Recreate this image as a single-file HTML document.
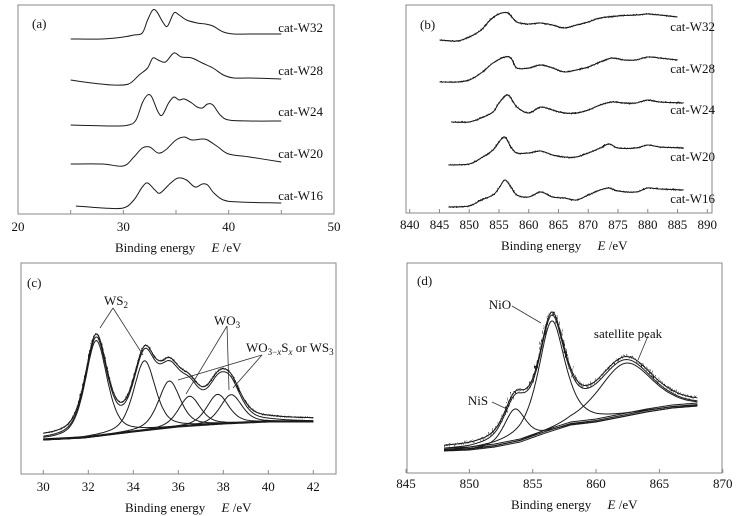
<!DOCTYPE html>
<html><head><meta charset="utf-8"><style>
body{margin:0;background:#fff}
svg{display:block;font-family:"Liberation Serif",serif}
.t{font-size:13px;fill:#111}
.box{fill:none;stroke:#888;stroke-width:1}
.ln{fill:none;stroke:#1a1a1a;stroke-width:1}
</style></head><body>
<svg id="fig" width="736" height="516" viewBox="0 0 736 516" xmlns="http://www.w3.org/2000/svg">
<defs>
<filter id="nz1" x="-5%" y="-20%" width="110%" height="140%"><feTurbulence type="fractalNoise" baseFrequency="1.2 0.3" numOctaves="1" seed="3"/><feDisplacementMap in="SourceGraphic" scale="3" yChannelSelector="G"/></filter>
<filter id="nz2" x="-5%" y="-20%" width="110%" height="140%"><feTurbulence type="fractalNoise" baseFrequency="0.9 0.2" numOctaves="1" seed="5"/><feDisplacementMap in="SourceGraphic" scale="9" yChannelSelector="G"/></filter>
</defs>
<rect width="736" height="516" fill="#fff"/>
<g id="pa"></g>
<g id="pb"></g>
<g id="pc"></g>
<g id="pd"></g>
</svg>
<script>
// ---- panel (a) data ----
const aTicks = [20, 30, 40, 50];
const aNames = ["cat-W32", "cat-W28", "cat-W24", "cat-W20", "cat-W16"];
const aW32E = [25,28,30,31,31.8,32.3,32.8,33.2,33.8,34.2,34.8,35.3,36,37,37.8,38.5,39.5,40.5,42,45];
const aW32I = [175,175,177,179,181,194,204,202,191,188,201,199,194,191,190,188,182,180,180,180];
const aW28E = [25,27,29,30.5,31.5,32.3,32.8,33.3,34,34.8,35.5,36.5,37.5,38.5,39.5,40.5,42,45];
const aW28I = [134,131,129,130,139,146,156,154,152,161,157,156,151,146,139,136,136,135];
const aW24E = [25,29,30.5,31.2,31.8,32.3,32.7,33.3,33.7,34.3,34.8,35.3,35.8,36.5,37,37.5,38,38.5,39.2,40,42,45];
const aW24I = [89,88,89,94,111,119,117,102,99,111,117,114,115,111,107,106,110,109,99,94,93,93];
const aW20E = [25,28,30,31,31.8,32.5,33.3,34,35,35.8,36.5,37.5,38,39,40,42,45];
const aW20I = [50,50,48,57,66,67,61,64,74,77,74,75,74,67,60,57,52];
const aW16E = [25.5,28,30,31,31.8,32.3,33,33.5,34.5,35.2,36,36.8,37.5,38,38.6,39.5,41,45];
const aW16I = [8,6,6,14,27,31,24,21,31,36,34,27,30,29,21,14,12,11];
// ---- panel (b) data ----
const bTicks = [840,845,850,855,860,865,870,875,880,885,890];
const bW32E = [845,848,850,852,853.5,855,856.5,858,860,862,864,866,868,870,872,875,878,880,882,885];
const bW32I = [173,172,176,183,193,199,200,191,189,190,188,185,188,191,195,197,198,199,198,196];
const bW28E = [845,848,850,852,854,856,857,858,860,862,864,866,868,870,872,874,876,878,880,882,885];
const bW28I = [131,131,133,140,150,156,155,145,145,148,145,141,143,146,151,155,153,153,156,155,153];
const bW24E = [847,850,852,854,855,856.5,858,860,862,864,866,868,870,872,874,876,878,880,882,886];
const bW24I = [91,91,95,101,110,118,106,100,106,103,100,100,103,108,111,110,110,113,111,110];
const bW20E = [846.5,850,852,854,855,856,857,858,860,862,864,866,868,870,872,873.5,875,878,880,882,886];
const bW20I = [48,49,55,63,71,76,66,60,60,62,58,56,56,60,65,69,65,65,68,66,65];
const bW16E = [846.5,850,852,854,855,856,857,858,860,862,864,866,868,870,872,873.5,875,878,880,882,886];
const bW16I = [6,7,13,18,25,33,26,18,16,21,16,15,13,18,23,25,22,21,25,24,23];
// ---- panel (c) data ----
const cTicks = [30,32,34,36,38,40,42];
const cCenters = [32.35,34.5,35.6,36.5,37.75,38.35];
const cHeights = [96,70,47,30,30,29];
const cWidths = [1.15,1.15,1.15,1.15,1.15,1.15];
const cBgE = [30,31.8,34,36,38,40,42];
const cBgI = [34,36,42,47,50,52,52];
// ---- panel (d) data ----
const dTicks = [845,850,855,860,865,870];
const dCenters = [853.6,856.5,862.3];
const dHeights = [34,110,53];
const dWidths = [2.0,2.5,5.0];
const dBgE = [848,850,852,854,856,858,860,862,864,866,868];
const dBgI = [22,23,26,31,40,48,51,56,61,65,67];

const NS = "http://www.w3.org/2000/svg";
function mk(parent, tag, attrs, text) {
  const e = document.createElementNS(NS, tag);
  for (const k in attrs) e.setAttribute(k, attrs[k]);
  if (text !== undefined) e.textContent = text;
  parent.appendChild(e);
  return e;
}
function interp(E, xs, ys) {
  if (E <= xs[0]) return ys[0];
  for (let i = 1; i < xs.length; i++) if (E <= xs[i]) { const t = (E - xs[i-1])/(xs[i]-xs[i-1]); return ys[i-1] + t*(ys[i]-ys[i-1]); }
  return ys[ys.length-1];
}
function pv(E, c, h, w, eta) {
  const u = (E - c) / w;
  return h * (eta / (1 + 4*u*u) + (1-eta) * Math.exp(-4*Math.LN2*u*u));
}
function ptsFrom(xs, ys, sx, sy) { return xs.map((x,i)=> sx(x).toFixed(1)+","+sy(ys[i]).toFixed(1)).join(" "); }
function smoothPath(xs, ys, sx, sy) {
  const P = xs.map((x,i)=>[sx(x), sy(ys[i])]);
  let d = "M" + P[0][0].toFixed(1) + "," + P[0][1].toFixed(1);
  for (let i = 0; i < P.length - 1; i++) {
    const p0 = P[Math.max(0,i-1)], p1 = P[i], p2 = P[i+1], p3 = P[Math.min(P.length-1,i+2)];
    const c1 = [p1[0]+(p2[0]-p0[0])/6, p1[1]+(p2[1]-p0[1])/6];
    const c2 = [p2[0]-(p3[0]-p1[0])/6, p2[1]-(p3[1]-p1[1])/6];
    d += " C" + c1.map(v=>v.toFixed(1)).join(",") + " " + c2.map(v=>v.toFixed(1)).join(",") + " " + p2.map(v=>v.toFixed(1)).join(",");
  }
  return d;
}

function frame(g, name, x0, y0, x1, y1, ticks, sx, lblY, titleX) {
  const r = mk(g, "rect", {x:x0, y:y0, width:x1-x0, height:y1-y0, class:"box"});
  
  
  ticks.forEach(v => {
    const tk = mk(g, "line", {x1:sx(v), x2:sx(v), y1:y1, y2:y1-4, stroke:"#888"});
    
    
    const tl = mk(g, "text", {x:sx(v), y:lblY, class:"t", "text-anchor":"middle"}, String(v));
    
    
  });
  const tt = mk(g, "text", {x:titleX, y:lblY+21, class:"t"});
  
  
  tt.innerHTML = 'Binding energy\u00a0\u00a0\u00a0\u00a0\u00a0<tspan font-style="italic">E</tspan> /eV';
}

// panel a
(function(){
  const g = document.getElementById("pa");
  const sx = E => 18 + (E - 20) * (316/30);
  const sy = I => 214 - I;
  frame(g, "panel-a", 18, 5, 334, 214, aTicks, sx, 231, 115);
  [25,35,45].forEach(v=>{ const m = mk(g,"line",{x1:sx(v),x2:sx(v),y1:214,y2:210,stroke:"#888"});
    
     });
  const lab = mk(g,"text",{x:32,y:28,class:"t"},"(a)");
  
  
  const sets = [[aW32E,aW32I],[aW28E,aW28I],[aW24E,aW24I],[aW20E,aW20I],[aW16E,aW16I]];
  const ly = [32,75,116,158,200];
  sets.forEach((s,i)=>{
    const p = mk(g,"path",{d:smoothPath(s[0],s[1],sx,sy),class:"ln","stroke-width":"1"});
    
    
    const t = mk(g,"text",{x:323,y:ly[i],class:"t","text-anchor":"end"},aNames[i]);
    
    
  });
})();

// panel b
(function(){
  const g = document.getElementById("pb");
  const sx = E => 409.7 + (E - 840) * (297.6/50);
  const sy = I => 213 - I;
  frame(g, "panel-b", 406, 5, 712, 213, bTicks, sx, 229, 501);
  const lab = mk(g,"text",{x:420,y:29,class:"t"},"(b)");
  
  
  const sets = [[bW32E,bW32I],[bW28E,bW28I],[bW24E,bW24I],[bW20E,bW20I],[bW16E,bW16I]];
  const ly = [31,73,114,161,203];
  sets.forEach((s,i)=>{
    const d = smoothPath(s[0],s[1],sx,sy);
    const p = mk(g,"path",{d:d,class:"ln","stroke-width":"1.3"});
    
    
    const n = mk(g,"path",{d:d,class:"ln","stroke-width":"1.5",filter:"url(#nz1)"});
    
    
    const t = mk(g,"text",{x:715,y:ly[i],class:"t","text-anchor":"end"},aNames[i]);
    
    
  });
})();

// panel c
(function(){
  const g = document.getElementById("pc");
  const sx = E => 43.3 + (E - 30) * 22.5;
  const sy = I => 474 - I;
  frame(g, "panel-c", 21, 263, 336, 474, cTicks, sx, 491, 125);
  const lab = mk(g,"text",{x:27,y:287,class:"t"},"(c)");
  
  
  const Es = []; for (let E = 30; E <= 42.001; E += 0.05) Es.push(E);
  const bg = Es.map(E=>interp(E,cBgE,cBgI));
  [0,1.2].forEach(o=>{
    const b1 = mk(g,"polyline",{points:ptsFrom(Es,bg.map(v=>v+o),sx,sy),class:"ln","stroke-width":"1.2"});
    
    
  });
  cCenters.forEach((c,k)=>{
    const ys = Es.map((E,i)=>bg[i]+pv(E,c,cHeights[k],cWidths[k],0.5));
    const p = mk(g,"polyline",{points:ptsFrom(Es,ys,sx,sy),class:"ln"});
    
    
  });
  const env = Es.map((E,i)=>bg[i]+cCenters.reduce((s,c,k)=>s+pv(E,c,cHeights[k],cWidths[k],0.5),0));
  const e1 = mk(g,"polyline",{points:ptsFrom(Es,env,sx,sy),class:"ln"});
  
  
  const e2 = mk(g,"polyline",{points:ptsFrom(Es,env.map(v=>v+3),sx,sy),class:"ln"});
  
  
  const e3 = mk(g,"polyline",{points:ptsFrom(Es,env.map(v=>v+3),sx,sy),class:"ln",filter:"url(#nz1)"});
  
  
  const ann = mk(g,"g",{stroke:"#333","stroke-width":"0.8"});
  
  
  [[113,308,100,328],[113,308,143,355],[227,326,186,394],[227,326,229,390],[262,355,178,380],[262,355,233,388]].forEach(l=>{
    mk(ann,"line",{x1:l[0],y1:l[1],x2:l[2],y2:l[3]});
  });
  const t1 = mk(g,"text",{x:104,y:305,class:"t"}); t1.innerHTML='WS<tspan font-size="9" dy="3">2</tspan>';
  
  
  const t2 = mk(g,"text",{x:214,y:325,class:"t"}); t2.innerHTML='WO<tspan font-size="9" dy="3">3</tspan>';
  
  
  const t3 = mk(g,"text",{x:246,y:352,class:"t"}); t3.innerHTML='WO<tspan font-size="9" dy="3">3−<tspan font-style="italic">x</tspan></tspan><tspan dy="-3">S</tspan><tspan font-size="9" dy="3" font-style="italic">x</tspan><tspan dy="-3"> or WS</tspan><tspan font-size="9" dy="3">3</tspan>';
  
  
})();

// panel d
(function(){
  const g = document.getElementById("pd");
  const sx = E => 406 + (E - 845) * 12.67;
  const sy = I => 473 - I;
  frame(g, "panel-d", 407, 263, 722, 473, dTicks, sx, 488, 511);
  const lab = mk(g,"text",{x:417,y:285,class:"t"},"(d)");
  
  
  const Es = []; for (let E = 848; E <= 868.001; E += 0.05) Es.push(E);
  const bg = Es.map(E=>interp(E,dBgE,dBgI));
  [0,1.5,3].forEach(o=>{
    const b = mk(g,"polyline",{points:ptsFrom(Es,bg.map(v=>v+o),sx,sy),class:"ln","stroke-width":"0.9"});
    
    
  });
  const etas = [0.5,0.7,0.4];
  dCenters.forEach((c,k)=>{
    const ys = Es.map((E,i)=>bg[i]+pv(E,c,dHeights[k],dWidths[k],etas[k]));
    const p = mk(g,"polyline",{points:ptsFrom(Es,ys,sx,sy),class:"ln"});
    
    
  });
  const env = Es.map((E,i)=>bg[i]+dCenters.reduce((s,c,k)=>s+pv(E,c,dHeights[k],dWidths[k],etas[k]),0));
  const e1 = mk(g,"polyline",{points:ptsFrom(Es,env,sx,sy),class:"ln"});
  
  
  const e2 = mk(g,"polyline",{points:ptsFrom(Es,env.map(v=>v+3),sx,sy),class:"ln","stroke-width":"1.2"});
  
  
  const e3 = mk(g,"polyline",{points:ptsFrom(Es,env.map(v=>v+3),sx,sy),class:"ln","stroke-width":"1.6",filter:"url(#nz2)"});
  
  
  const ann = mk(g,"g",{stroke:"#333","stroke-width":"0.8"});
  
  
  [[512,306,541,323],[648,336,638,360],[492,402,507,409]].forEach(l=>mk(ann,"line",{x1:l[0],y1:l[1],x2:l[2],y2:l[3]}));
  const t1 = mk(g,"text",{x:500,y:309,class:"t","text-anchor":"middle"},"NiO");
  
  
  const t2 = mk(g,"text",{x:628,y:338,class:"t","text-anchor":"middle"},"satellite peak");
  
  
  const t3 = mk(g,"text",{x:478,y:405,class:"t","text-anchor":"middle"},"NiS");
  
  
})();
</script>
</body></html>
